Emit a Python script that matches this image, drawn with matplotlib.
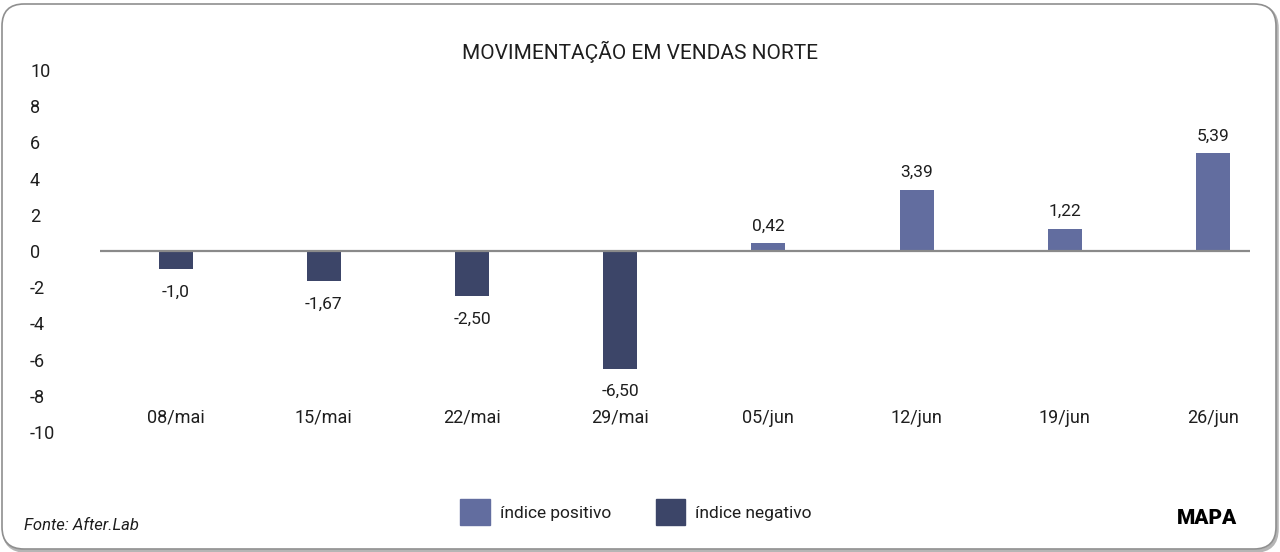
import matplotlib.pyplot as plt
import numpy as np
from matplotlib.patches import FancyBboxPatch, Patch
from matplotlib.transforms import IdentityTransform

plt.rcParams['font.family'] = ['Roboto', 'DejaVu Sans']

SEMANAS = ['08/mai', '15/mai', '22/mai', '29/mai', '05/jun', '12/jun', '19/jun', '26/jun']
INDICE = [-1.0, -1.67, -2.50, -6.50, 0.42, 3.39, 1.22, 5.39]
ROTULOS = ['-1,0', '-1,67', '-2,50', '-6,50', '0,42', '3,39', '1,22', '5,39']
YTICKS = [10, 8, 6, 4, 2, 0, -2, -4, -6, -8, -10]

COR_POS = '#626d9f'
COR_NEG = '#3c4568'
TEXTO = '#1e1e1e'

fig = plt.figure(figsize=(12.8, 5.52), dpi=100)

# moldura arredondada com leve sombra (atrás dos eixos)
sombra = FancyBboxPatch((4, 1), 1273, 545, boxstyle='round,pad=0,rounding_size=22',
                        transform=IdentityTransform(), fc='none', ec='#b5b5b5', lw=2.5, zorder=-2)
moldura = FancyBboxPatch((2, 3), 1274, 545, boxstyle='round,pad=0,rounding_size=22',
                         transform=IdentityTransform(), fc='white', ec='#8f8f8f', lw=1.2, zorder=-1)
fig.patches.extend([sombra, moldura])

ax = fig.add_axes([100/1280, (552-432)/552, 1150/1280, 362/552])
ax.set_facecolor('none')

xpos = np.arange(len(SEMANAS))
cores = [COR_POS if v >= 0 else COR_NEG for v in INDICE]
ax.bar(xpos, INDICE, width=0.23, color=cores, zorder=2)
ax.axhline(0, color='#8a8a8a', lw=1.6, zorder=3)

for x, v, r in zip(xpos, INDICE, ROTULOS):
    if v >= 0:
        ax.annotate(r, (x, v), xytext=(0, 7), textcoords='offset points',
                    ha='center', va='bottom', fontsize=12.5, color=TEXTO)
    else:
        ax.annotate(r, (x, v), xytext=(0, -11), textcoords='offset points',
                    ha='center', va='top', fontsize=12.5, color=TEXTO)

for x, s in zip(xpos, SEMANAS):
    ax.text(x, -9.2, s, ha='center', va='center', fontsize=13, color=TEXTO)

ax.set_xlim(-0.51, 7.25)
ax.set_ylim(-10, 10)
ax.set_xticks([])
ax.set_yticks(YTICKS)
ax.set_yticklabels([str(t) for t in YTICKS], ha='left', fontsize=13, color=TEXTO)
ax.tick_params(axis='y', length=0, pad=50.4)
for s in ax.spines.values():
    s.set_visible(False)

fig.text(640/1280, 1-52/552, 'MOVIMENTAÇÃO EM VENDAS NORTE', ha='center', va='center',
         fontsize=15, color=TEXTO)

handles = [Patch(color=COR_POS, label='índice positivo'),
           Patch(color=COR_NEG, label='índice negativo')]
fig.legend(handles=handles, loc='center', bbox_to_anchor=(636/1280, 1-512/552), ncol=2,
           frameon=False, fontsize=12.5, handlelength=1.7, handleheight=1.9,
           handletextpad=0.55, columnspacing=2.6, labelcolor=TEXTO)

fig.text(24/1280, 1-525/552, 'Fonte: After.Lab', ha='left', va='center',
         fontsize=12, style='italic', color=TEXTO)
fig.text(1207/1280, 1-518/552, 'MAPA', ha='center', va='center',
         fontsize=15, fontweight='black', color='black')

fig.savefig('out.png', dpi=100)
